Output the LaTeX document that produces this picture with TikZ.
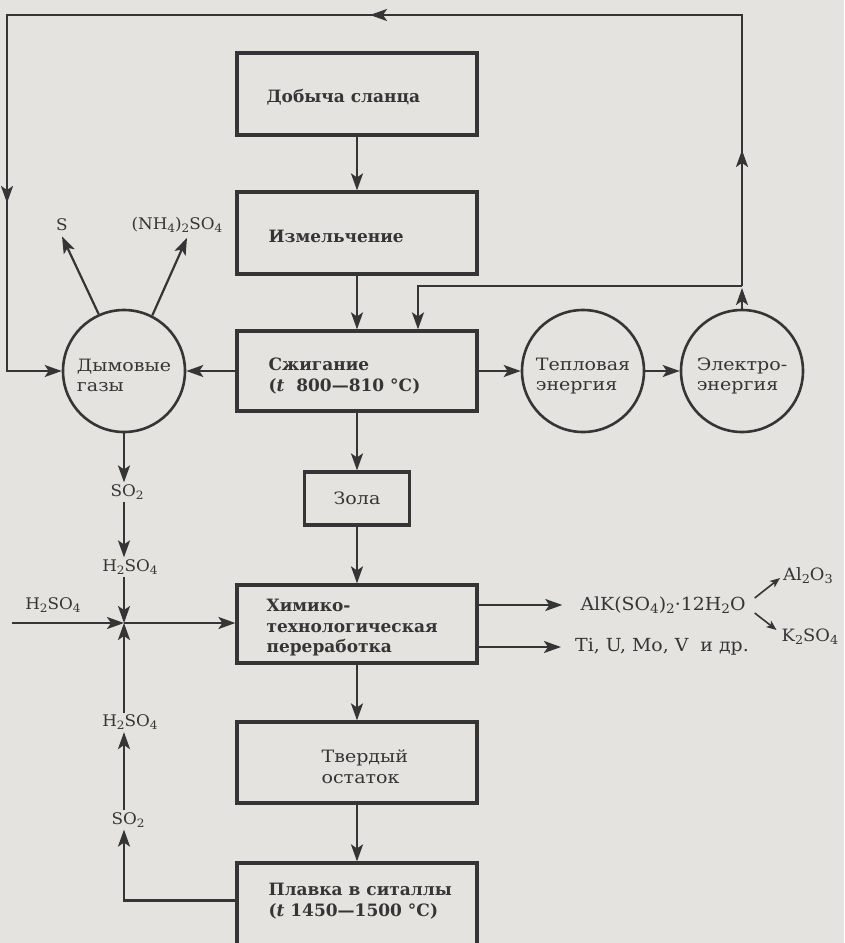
\documentclass[tikz,border=0pt]{standalone}
\usepackage{fontspec}
\setmainfont{DejaVu Serif}
\newfontfamily\widefont[FakeStretch=1.12]{DejaVu Serif}
\newfontfamily\chemfont[FakeStretch=1.05]{DejaVu Serif}
\usetikzlibrary{arrows.meta,decorations.markings,calc}
\makeatletter
\newcommand\chsub[1]{\raisebox{-0.35ex}{\fontsize{\fpeval{0.72*\f@size}}{1}\selectfont #1}}
\makeatother
\newcommand\topstrut{\rule{0pt}{22pt}}
\definecolor{paper}{HTML}{E4E3E0}
\definecolor{ink}{HTML}{353535}
\begin{document}
\begin{tikzpicture}[x=1pt,y=-1pt,
  every node/.style={text=ink},
  procbox/.style={draw=ink, line width=3.2pt, minimum width=240pt, inner sep=0pt},
  boldlbl/.style={font=\fontsize{17}{20.5}\selectfont\bfseries, align=left, inner sep=0pt, anchor=west},
  plainlbl/.style={font=\widefont\fontsize{17}{21}\selectfont, align=left, inner sep=0pt},
  circ/.style={circle, draw=ink, line width=2.6pt, minimum size=122pt, inner sep=0pt, font=\widefont\fontsize{17}{20}\selectfont, align=left},
  chemlbl/.style={font=\chemfont\fontsize{16}{18}\selectfont, inner sep=2pt},
  bigchem/.style={font=\chemfont\fontsize{18}{20}\selectfont, inner sep=2pt},
  conn/.style={draw=ink, line width=2.2pt},
  tip/.tip={Stealth[length=17pt,width=12pt,inset=4pt]},
  arr/.style={conn, -tip},
  smallarr/.style={draw=ink, line width=1.6pt, -{Stealth[length=10pt,width=8pt,inset=2.5pt]}},
]
\fill[paper] (0,0) rectangle (844,943);
\useasboundingbox (0,0) rectangle (844,943);
\clip (0,0) rectangle (844,943);

% process boxes
\node[procbox, minimum height=82pt] (dob) at (357,94) {};
\node[boldlbl] (dobT) at ([xshift=31pt,yshift=-3pt]dob.west) {Добыча сланца};
\node[procbox, minimum height=82pt] (izm) at (357,233) {};
\node[boldlbl] (izmT) at ([xshift=33pt,yshift=-3pt]izm.west) {Измельчение};
\node[procbox, minimum height=80pt] (szh) at (357,371) {};
\node[boldlbl] (szhT) at ([xshift=33pt,yshift=-5pt]szh.west) {Сжигание\\(\textit{t}\ \ 800—810 °C)};
\node[procbox, minimum width=105pt, minimum height=53pt, font=\widefont\fontsize{17}{20}\selectfont] (zola) at (357,498.5) {Зола};
\node[procbox, minimum height=78pt] (chem) at (357,624) {};
\node[boldlbl] (chemT) at ([xshift=31pt,yshift=-4pt]chem.west) {Химико-\\технологическая\\переработка};
\node[procbox, minimum height=81pt] (tverd) at (357,762.5) {};
\node[plainlbl, anchor=west] (tverdT) at ([xshift=86pt,yshift=-4pt]tverd.west) {Твердый\\остаток};
\node[procbox, minimum height=102pt] (plavka) at (357,914) {};
\node[boldlbl] (plavkaT) at ([xshift=33pt,yshift=-39.5pt]plavka.north west) {Плавка в ситаллы\\(\textit{t}\ 1450—1500 °C)};

% circles
\node[circ] (dym) at (124,371) {\topstrut Дымовые\\газы};
\node[circ] (tepl) at (583,371) {\topstrut Тепловая\\энергия};
\node[circ] (elek) at (742,371) {\topstrut Электро-\\энергия};

% chemical labels
\node[chemlbl] (S) at (62,225) {S};
\node[chemlbl] (nh4) at (177,225) {(NH\chsub{4})\chsub{2}SO\chsub{4}};
\node[chemlbl] (so2a) at (127,492) {SO\chsub{2}};
\node[chemlbl] (h2a) at (130,567) {H\chsub{2}SO\chsub{4}};
\node[chemlbl] (h2l) at (53,605) {H\chsub{2}SO\chsub{4}};
\node[chemlbl] (h2b) at (130,722.5) {H\chsub{2}SO\chsub{4}};
\node[chemlbl] (so2b) at (128,820) {SO\chsub{2}};
\node[bigchem] (alk) at (663,605) {AlK(SO\chsub{4})\chsub{2}·12H\chsub{2}O};
\node[bigchem] (ti) at (662,647) {Ti, U, Mo, V\ \ и др.};
\node[chemlbl, font=\chemfont\fontsize{17}{20}\selectfont] (al2o3) at (808,576) {Al\chsub{2}O\chsub{3}};
\node[chemlbl, font=\chemfont\fontsize{17}{20}\selectfont] (k2so4) at (810,637) {K\chsub{2}SO\chsub{4}};

% junctions and free ends
\coordinate (J1) at (742,286);
\coordinate (J2) at (418,286);
\coordinate (TR) at (742,15);
\coordinate (TL) at (7,15);
\coordinate (BL) at (7,371);
\coordinate (JX) at (124,623);
\coordinate (HL) at (12,623);

% main chain
\draw[arr] (dob) -- (izm);
\draw[arr] (izm) -- (szh);
\draw[arr] (szh) -- (zola);
\draw[arr] (zola) -- (chem);
\draw[arr] (chem) -- (tverd);
\draw[arr] (tverd) -- (plavka);
\draw[arr] (szh) -- (tepl);
\draw[arr] (tepl) -- (elek);
\draw[arr] (szh) -- (dym);

% feedback loop
\draw[arr, shorten >=2pt] (elek.north) -- (J1);
\draw[arr] (J1) -- (J2) -- (J2 |- szh.north);
\draw[conn, postaction={decorate}, decoration={markings,
    mark=at position 136pt with {\arrow{tip}},
    mark=at position 643pt with {\arrow{tip}},
    mark=at position 1194pt with {\arrow{tip}}}, -tip]
  (J1) -- (TR) -- (TL) -- (BL) -- (dym.west);

% by-products of flue gas
\draw[arr] (dym.114) -- ([yshift=-3pt]S.south);
\draw[arr] (dym.63) -- ([xshift=10pt,yshift=-3pt]nh4.south);
\draw[arr] (dym.south) -- (JX |- so2a.north);
\draw[arr] (JX |- so2a.south) -- (JX |- h2a.north);
\draw[arr] (JX |- h2a.south) -- (JX);
\draw[arr] (HL) -- (JX);
\draw[arr] (JX) -- (JX -| chem.west);
\draw[arr] (JX |- h2b.north) -- (JX);
\draw[arr] (JX |- so2b.north) -- (JX |- h2b.south);
\draw[arr] ([yshift=-39pt]plavka.north west) -| (JX |- so2b.south);

% products of chemical processing
\draw[arr, shorten >=16pt] (chem.east |- alk) -- (alk.west);
\draw[arr, shorten >=12pt] (chem.east |- ti) -- (ti.west);
\draw[smallarr] ([xshift=7pt,yshift=7pt]alk.east) -- ([xshift=-1pt,yshift=-2pt]al2o3.west);
\draw[smallarr] ([xshift=7pt,yshift=-8pt]alk.east) -- ([xshift=-3pt,yshift=7pt]k2so4.west);
\end{tikzpicture}
\end{document}
